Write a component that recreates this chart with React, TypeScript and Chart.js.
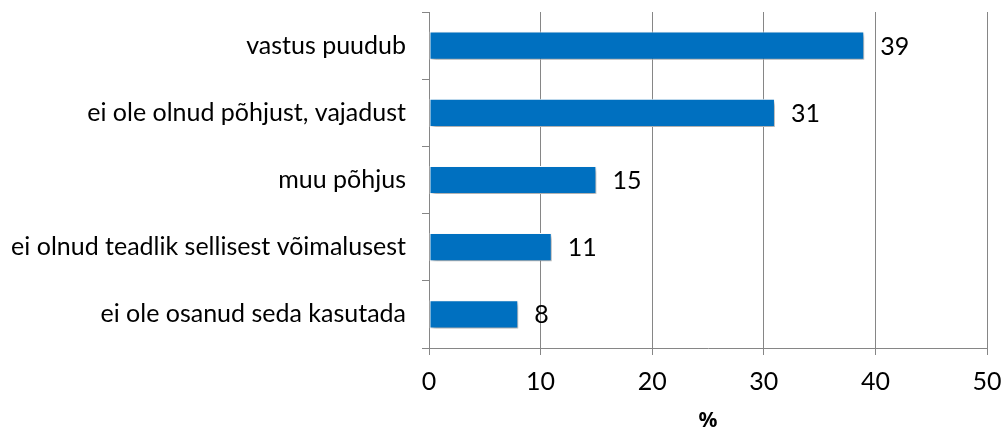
import React, { useEffect, useRef } from "react";
import { Chart, registerables } from "chart.js";

Chart.register(...registerables);

const categories = [
  "vastus puudub",
  "ei ole olnud põhjust, vajadust",
  "muu põhjus",
  "ei olnud teadlik sellisest võimalusest",
  "ei ole osanud seda kasutada",
];
const values = [39, 31, 15, 11, 8];
const xTicks = [0, 10, 20, 30, 40, 50];
const axisTitle = "%";

const FONT = "Lato, 'Open Sans', sans-serif";

const shadowPlugin = {
  id: "barShadow",
  beforeDatasetDraw(chart: any) {
    const ctx = chart.ctx;
    ctx.save();
    ctx.shadowColor = "rgba(0,0,0,0.35)";
    ctx.shadowBlur = 4;
    ctx.shadowOffsetX = 2;
    ctx.shadowOffsetY = 3;
  },
  afterDatasetDraw(chart: any) {
    chart.ctx.restore();
  },
};

const labelPlugin = {
  id: "valueLabels",
  afterDatasetsDraw(chart: any) {
    const ctx = chart.ctx;
    const meta = chart.getDatasetMeta(0);
    ctx.save();
    ctx.font = `25px ${FONT}`;
    ctx.fillStyle = "#000";
    ctx.textAlign = "left";
    ctx.textBaseline = "middle";
    meta.data.forEach((bar: any, i: number) => {
      ctx.fillText(String(values[i]), bar.x + 16, bar.y + 1);
    });
    ctx.restore();
  },
};

export default function App() {
  const ref = useRef<HTMLCanvasElement>(null);
  useEffect(() => {
    if (!ref.current) return;
    const chart = new Chart(ref.current, {
      type: "bar",
      data: {
        labels: categories,
        datasets: [
          {
            data: values,
            backgroundColor: "#0070C0",
            borderColor: "#ffffff",
            borderWidth: 1,
            borderSkipped: false,
            categoryPercentage: 1,
            barPercentage: 0.42,
          },
        ],
      },
      options: {
        indexAxis: "y",
        responsive: false,
        animation: false,
        layout: { padding: { top: 12, right: 16, left: 0, bottom: 0 } },
        plugins: { legend: { display: false }, tooltip: { enabled: false } },
        scales: {
          x: {
            min: 0,
            max: 50,
            afterBuildTicks(scale: any) {
              scale.ticks = xTicks.map((v) => ({ value: v }));
            },
            afterFit(scale: any) {
              scale.height = 80;
              scale.paddingLeft = 0;
              scale.paddingRight = 0;
            },
            grid: { color: "#868686", lineWidth: 1, tickLength: 7 },
            border: { color: "#868686" },
            ticks: {
              font: { family: FONT, size: 25 },
              color: "#000",
              padding: 12,
            },
            title: {
              display: true,
              text: axisTitle,
              font: { family: "'Noto Sans', 'Open Sans', sans-serif", size: 21, weight: "bold" },
              color: "#000",
              padding: { top: 0, bottom: -6 },
            },
          },
          y: {
            afterFit(scale: any) {
              scale.width = 429;
              scale.paddingTop = 0;
              scale.paddingBottom = 0;
            },
            grid: { offset: true, drawOnChartArea: false, tickLength: 7, color: "#868686" },
            border: { color: "#868686" },
            ticks: {
              font: { family: FONT, size: 25 },
              color: "#000",
              padding: 16,
            },
          },
        },
      },
      plugins: [shadowPlugin, labelPlugin],
    });
    return () => chart.destroy();
  }, []);
  return (
    <div style={{ position: "absolute", left: 0, top: 0, width: 1003, height: 428, background: "#fff" }}>
      <canvas ref={ref} width={1003} height={428} />
    </div>
  );
}
